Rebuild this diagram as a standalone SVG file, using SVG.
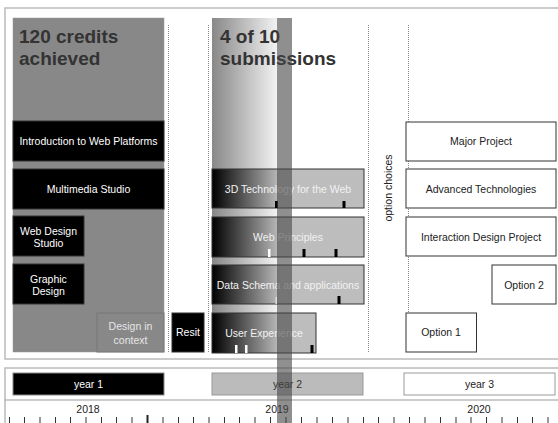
<svg xmlns="http://www.w3.org/2000/svg" width="558" height="423" viewBox="0 0 558 423">
<defs>
<linearGradient id="subGrad" gradientUnits="userSpaceOnUse" x1="212" y1="0" x2="277" y2="0">
<stop offset="0" stop-color="#888"/>
<stop offset="1" stop-color="#f2f2f2"/>
</linearGradient>
<linearGradient id="modGrad" gradientUnits="userSpaceOnUse" x1="212" y1="0" x2="280" y2="0">
<stop offset="0" stop-color="#000"/>
<stop offset="1" stop-color="#bdbdbd"/>
</linearGradient>
<style>
text{font-family:"Liberation Sans",Arial,sans-serif;text-anchor:middle;}
.big{font-size:19px;font-weight:bold;fill:#333;text-anchor:start;}
.lbl{font-size:10.5px;}
.blk rect{fill:#000;stroke:#333;stroke-width:1;}
.blk text{fill:#fff;}
.mod rect.m{fill:url(#modGrad);stroke:#333;stroke-width:1;}
.mod text{fill:#f2f2f2;}
.wht rect{fill:#fff;stroke:#333;stroke-width:1;}
.wht text{fill:#222;}
.guide{stroke:#888;stroke-width:1;stroke-dasharray:1 1;fill:none;}
.tk{stroke:#333;stroke-width:1;}
.frame{fill:none;stroke:#bbb;stroke-width:1.5;}
</style>
</defs>
<rect width="558" height="423" fill="#fff"/>
<rect class="frame" x="5" y="8" width="560" height="351"/>
<rect class="frame" x="5" y="368" width="560" height="70"/>
<line x1="5" y1="400" x2="558" y2="400" stroke="#999" stroke-width="1"/>

<g id="guides">
<line class="guide" x1="168.5" y1="25" x2="168.5" y2="352"/>
<line class="guide" x1="208.5" y1="25" x2="208.5" y2="352"/>
<line class="guide" x1="368.5" y1="25" x2="368.5" y2="352"/>
<line class="guide" x1="408.5" y1="25" x2="408.5" y2="312"/>
</g>

<g id="year1-block">
<rect x="13" y="18" width="151" height="334" fill="#888" stroke="#999" stroke-width="0.5"/>
<text class="big" x="19" y="43">120 credits</text>
<text class="big" x="19" y="65">achieved</text>
</g>
<g id="year2-block">
<rect x="212" y="18" width="65" height="334" fill="url(#subGrad)"/>
<text class="big" x="220" y="43">4 of 10</text>
<text class="big" x="220" y="65">submissions</text>
</g>

<g id="intro-web" class="blk"><rect x="13" y="121" width="151" height="40"/><text class="lbl" x="88.5" y="144.7">Introduction to Web Platforms</text></g>
<g id="multimedia" class="blk"><rect x="13" y="169" width="151" height="40"/><text class="lbl" x="88.5" y="192.7">Multimedia Studio</text></g>
<g id="web-design-studio" class="blk"><rect x="13" y="216" width="71" height="40"/><text class="lbl" x="48.5" y="235">Web Design</text><text class="lbl" x="48.5" y="247">Studio</text></g>
<g id="graphic-design" class="blk"><rect x="13" y="264" width="71" height="40"/><text class="lbl" x="48.5" y="282.5">Graphic</text><text class="lbl" x="48.5" y="294.5">Design</text></g>
<g id="design-in-context"><rect x="97" y="313" width="67" height="39" fill="#888" stroke="#777" stroke-width="1"/><text class="lbl" x="130.5" y="330" fill="#e6e6e6">Design in</text><text class="lbl" x="130.5" y="343.5" fill="#e6e6e6">context</text></g>
<g id="resit" class="blk"><rect x="172" y="313" width="32" height="39"/><text class="lbl" x="188" y="336">Resit</text></g>

<g id="3d-tech" class="mod"><rect class="m" x="212" y="169" width="152" height="39"/><text class="lbl" x="288" y="193">3D Technology for the Web</text>
<rect x="275" y="201" width="3" height="7" fill="#000"/><rect x="342.5" y="201" width="3" height="7" fill="#000"/></g>
<g id="web-principles" class="mod"><rect class="m" x="212" y="217" width="152" height="40"/><text class="lbl" x="288" y="241">Web Principles</text>
<rect x="268" y="249" width="2.5" height="8" fill="#fff"/><rect x="302.5" y="249" width="3" height="8" fill="#000"/><rect x="334.5" y="249" width="3" height="8" fill="#000"/></g>
<g id="data-schema" class="mod"><rect class="m" x="212" y="265" width="152" height="39"/><text class="lbl" x="288" y="289">Data Schema and applications</text>
<rect x="275.5" y="297" width="1.5" height="7" fill="#ddd"/><rect x="337.5" y="296" width="3" height="8" fill="#000"/></g>
<g id="user-experience" class="mod"><rect class="m" x="212" y="313" width="104" height="40"/><text class="lbl" x="264" y="337">User Experience</text>
<rect x="235" y="345" width="2.5" height="8" fill="#fff"/><rect x="245" y="345" width="2.5" height="8" fill="#fff"/><rect x="310.5" y="345" width="3" height="8" fill="#000"/></g>

<g id="option-choices"><text class="lbl" transform="translate(391.5,188) rotate(-90)" fill="#222">option choices</text></g>
<g id="major-project" class="wht"><rect x="406" y="122" width="150" height="39"/><text class="lbl" x="481" y="145">Major Project</text></g>
<g id="advanced-tech" class="wht"><rect x="406" y="169" width="150" height="39"/><text class="lbl" x="481" y="193">Advanced Technologies</text></g>
<g id="interaction-design" class="wht"><rect x="406" y="217" width="150" height="39"/><text class="lbl" x="481" y="241">Interaction Design Project</text></g>
<g id="option-2" class="wht"><rect x="492" y="265" width="64" height="39"/><text class="lbl" x="524" y="289">Option 2</text></g>
<g id="option-1" class="wht"><rect x="406" y="313" width="70.5" height="39"/><text class="lbl" x="441" y="336">Option 1</text></g>

<g id="year-1"><rect x="13" y="373" width="151" height="22" fill="#000" stroke="#888" stroke-width="1"/><text class="lbl" x="88.5" y="388" fill="#fff">year 1</text></g>
<g id="year-2"><rect x="212" y="373" width="151" height="22" fill="#bbb" stroke="#999" stroke-width="1"/><text class="lbl" x="287.5" y="388" fill="#333">year 2</text></g>
<g id="year-3"><rect x="404" y="373" width="151" height="22" fill="#fff" stroke="#999" stroke-width="1"/><text class="lbl" x="479.5" y="388" fill="#222">year 3</text></g>

<g id="timeline">
<text class="lbl" x="88" y="413" fill="#222">2018</text>
<text class="lbl" x="277" y="413" fill="#222">2019</text>
<text class="lbl" x="479" y="413" fill="#222">2020</text>
<path class="tk" d="M9.5 417V423M24.5 417V423M40 417V423M55.5 417V423M70.5 417V423M86 417V423M101.5 417V423M116.5 417V423M132 417V423M163 417V423M178.5 417V423M193.5 417V423M209 417V423M224.5 417V423M239.5 417V423M255 417V423M270.5 417V423M286 417V423M301.5 417V423M317 417V423M332.5 417V423M348 417V423M363.5 417V423M378.5 417V423M394 417V423M409.5 417V423M425 417V423M440.5 417V423M456 417V423M471 417V423M486.5 417V423M502 417V423M517.5 417V423M532.5 417V423M548 417V423"/>
<path d="M147.5 415V423" stroke="#222" stroke-width="2"/>
</g>

<g id="now-marker"><rect x="277" y="18" width="15" height="405" fill="#444" fill-opacity="0.6"/></g>
</svg>
